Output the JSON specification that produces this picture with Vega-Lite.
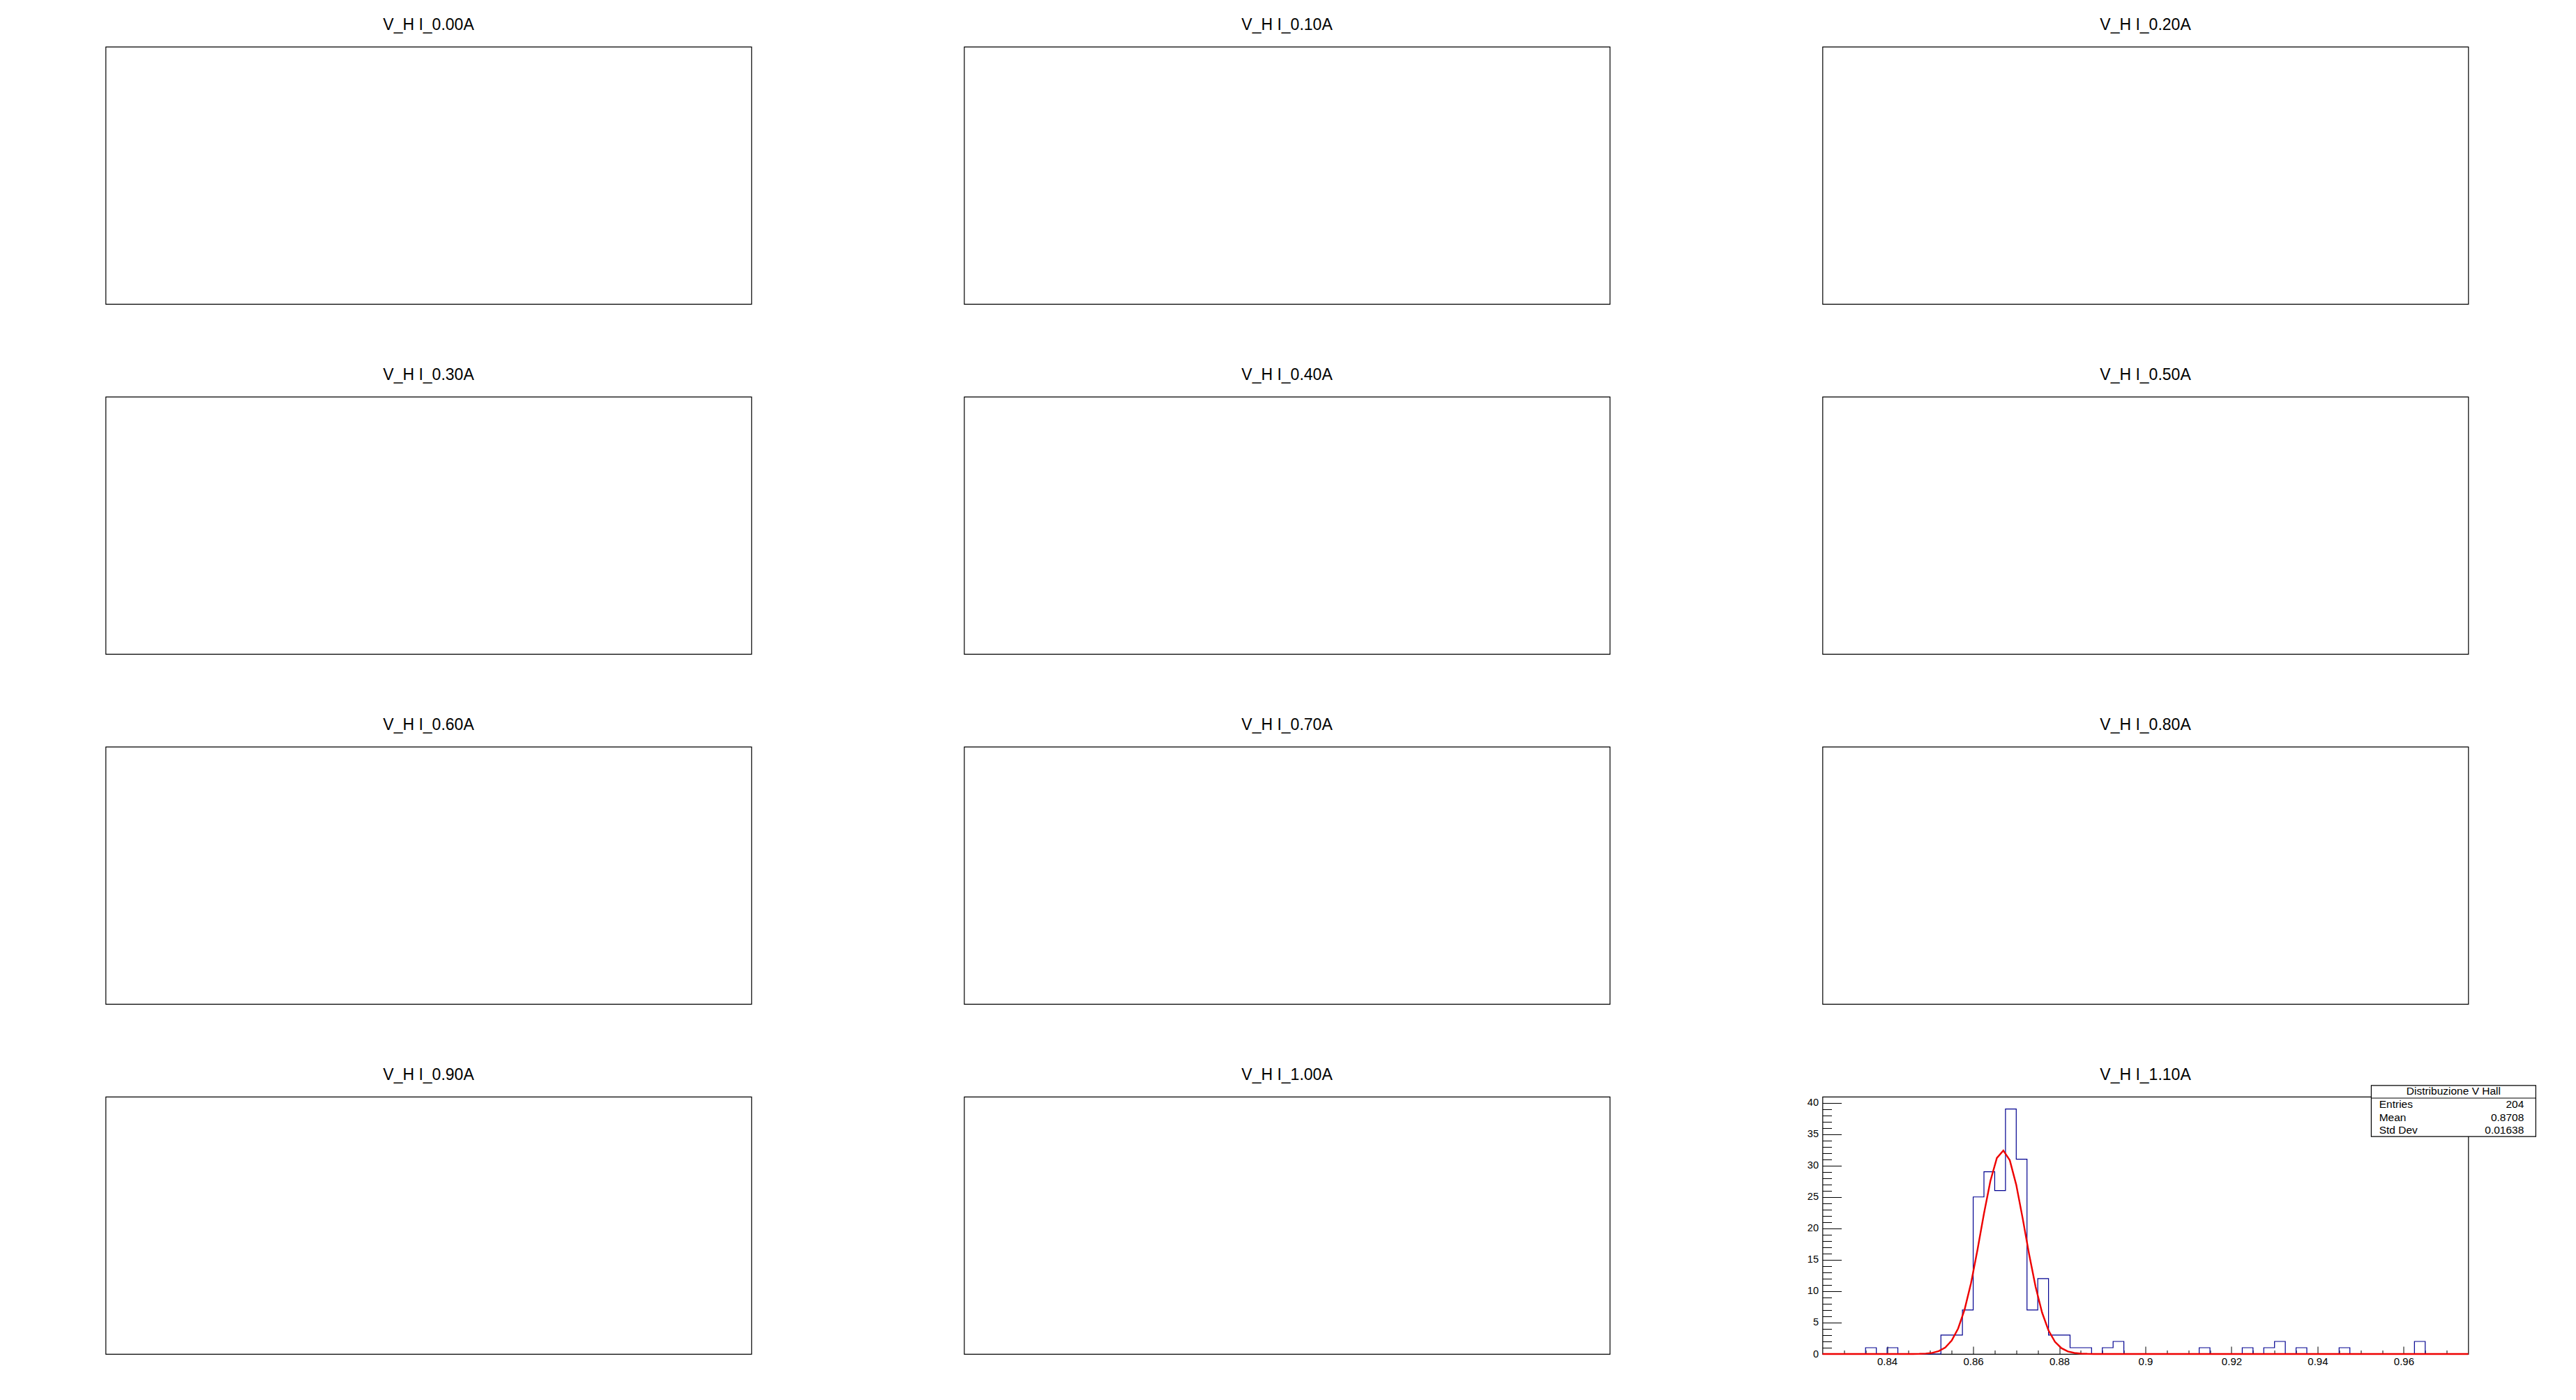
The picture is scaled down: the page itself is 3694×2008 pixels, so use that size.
{
  "$schema": "https://vega.github.io/schema/vega-lite/v6.json",
  "background": "white",
  "padding": {"left": 150.5, "top": 24, "right": 10, "bottom": 10},
  "config": {
    "view": {"stroke": "#000000", "strokeWidth": 1.2},
    "title": {"font": "Liberation Sans", "fontSize": 23, "fontWeight": "normal", "color": "#000000", "anchor": "middle", "frame": "group", "offset": 19, "baseline": "middle"},
    "axis": {"labelFont": "Liberation Sans", "labelColor": "#000000", "tickColor": "#000000", "tickWidth": 1, "grid": false, "domain": false, "title": null, "labelFlush": false, "labelOverlap": false},
    "text": {"font": "Liberation Sans", "color": "#000000"}
  },
  "columns": 3,
  "spacing": {"row": 133, "column": 305},
  "bounds": "flush",
  "concat": [
    {"title": "V_H I_0.00A", "width": 926, "height": 369, "data": {"values": []}, "mark": "point", "encoding": {"x": {"field": "a", "type": "quantitative", "axis": null}, "y": {"field": "b", "type": "quantitative", "axis": null}}},
    {"title": "V_H I_0.10A", "width": 926, "height": 369, "data": {"values": []}, "mark": "point", "encoding": {"x": {"field": "a", "type": "quantitative", "axis": null}, "y": {"field": "b", "type": "quantitative", "axis": null}}},
    {"title": "V_H I_0.20A", "width": 926, "height": 369, "data": {"values": []}, "mark": "point", "encoding": {"x": {"field": "a", "type": "quantitative", "axis": null}, "y": {"field": "b", "type": "quantitative", "axis": null}}},
    {"title": "V_H I_0.30A", "width": 926, "height": 369, "data": {"values": []}, "mark": "point", "encoding": {"x": {"field": "a", "type": "quantitative", "axis": null}, "y": {"field": "b", "type": "quantitative", "axis": null}}},
    {"title": "V_H I_0.40A", "width": 926, "height": 369, "data": {"values": []}, "mark": "point", "encoding": {"x": {"field": "a", "type": "quantitative", "axis": null}, "y": {"field": "b", "type": "quantitative", "axis": null}}},
    {"title": "V_H I_0.50A", "width": 926, "height": 369, "data": {"values": []}, "mark": "point", "encoding": {"x": {"field": "a", "type": "quantitative", "axis": null}, "y": {"field": "b", "type": "quantitative", "axis": null}}},
    {"title": "V_H I_0.60A", "width": 926, "height": 369, "data": {"values": []}, "mark": "point", "encoding": {"x": {"field": "a", "type": "quantitative", "axis": null}, "y": {"field": "b", "type": "quantitative", "axis": null}}},
    {"title": "V_H I_0.70A", "width": 926, "height": 369, "data": {"values": []}, "mark": "point", "encoding": {"x": {"field": "a", "type": "quantitative", "axis": null}, "y": {"field": "b", "type": "quantitative", "axis": null}}},
    {"title": "V_H I_0.80A", "width": 926, "height": 369, "data": {"values": []}, "mark": "point", "encoding": {"x": {"field": "a", "type": "quantitative", "axis": null}, "y": {"field": "b", "type": "quantitative", "axis": null}}},
    {"title": "V_H I_0.90A", "width": 926, "height": 369, "data": {"values": []}, "mark": "point", "encoding": {"x": {"field": "a", "type": "quantitative", "axis": null}, "y": {"field": "b", "type": "quantitative", "axis": null}}},
    {"title": "V_H I_1.00A", "width": 926, "height": 369, "data": {"values": []}, "mark": "point", "encoding": {"x": {"field": "a", "type": "quantitative", "axis": null}, "y": {"field": "b", "type": "quantitative", "axis": null}}},
    {
      "title": {"text": "V_H I_1.10A", "offset": 2.5},
      "width": 926,
      "height": 369,
      "resolve": {"axis": {"x": "independent", "y": "independent"}},
      "layer": [
        {
          "data": {"values": [
            {"v": 0.825, "n": 0}, {"v": 0.8275, "n": 0}, {"v": 0.83, "n": 0}, {"v": 0.8325, "n": 0},
            {"v": 0.835, "n": 1}, {"v": 0.8375, "n": 0}, {"v": 0.84, "n": 1}, {"v": 0.8425, "n": 0},
            {"v": 0.845, "n": 0}, {"v": 0.8475, "n": 0}, {"v": 0.85, "n": 0}, {"v": 0.8525, "n": 3},
            {"v": 0.855, "n": 3}, {"v": 0.8575, "n": 7}, {"v": 0.86, "n": 25}, {"v": 0.8625, "n": 29},
            {"v": 0.865, "n": 26}, {"v": 0.8675, "n": 39}, {"v": 0.87, "n": 31}, {"v": 0.8725, "n": 7},
            {"v": 0.875, "n": 12}, {"v": 0.8775, "n": 3}, {"v": 0.88, "n": 3}, {"v": 0.8825, "n": 1},
            {"v": 0.885, "n": 1}, {"v": 0.8875, "n": 0}, {"v": 0.89, "n": 1}, {"v": 0.8925, "n": 2},
            {"v": 0.895, "n": 0}, {"v": 0.8975, "n": 0}, {"v": 0.9, "n": 0}, {"v": 0.9025, "n": 0},
            {"v": 0.905, "n": 0}, {"v": 0.9075, "n": 0}, {"v": 0.91, "n": 0}, {"v": 0.9125, "n": 1},
            {"v": 0.915, "n": 0}, {"v": 0.9175, "n": 0}, {"v": 0.92, "n": 0}, {"v": 0.9225, "n": 1},
            {"v": 0.925, "n": 0}, {"v": 0.9275, "n": 1}, {"v": 0.93, "n": 2}, {"v": 0.9325, "n": 0},
            {"v": 0.935, "n": 1}, {"v": 0.9375, "n": 0}, {"v": 0.94, "n": 0}, {"v": 0.9425, "n": 0},
            {"v": 0.945, "n": 1}, {"v": 0.9475, "n": 0}, {"v": 0.95, "n": 0}, {"v": 0.9525, "n": 0},
            {"v": 0.955, "n": 0}, {"v": 0.9575, "n": 0}, {"v": 0.96, "n": 0}, {"v": 0.9625, "n": 2},
            {"v": 0.965, "n": 0}, {"v": 0.9675, "n": 0}, {"v": 0.97, "n": 0}, {"v": 0.9725, "n": 0}
          ]},
          "mark": {"type": "line", "interpolate": "step-after", "color": "#000090", "strokeWidth": 1.2},
          "encoding": {
            "x": {"field": "v", "type": "quantitative", "scale": {"domain": [0.825, 0.975], "nice": false, "zero": false},
                  "axis": {"orient": "bottom", "values": [0.84, 0.86, 0.88, 0.9, 0.92, 0.94, 0.96], "format": "~g", "ticks": false, "labelFontSize": 15, "labelPadding": 3}},
            "y": {"field": "n", "type": "quantitative", "scale": {"domain": [0, 40.95], "nice": false, "zero": true},
                  "axis": {"orient": "left", "values": [0, 5, 10, 15, 20, 25, 30, 35, 40], "format": "d", "ticks": false, "labelFontSize": 14.5, "labelPadding": 6}}
          }
        },
        {
          "data": {"values": [
            {"x": 0.825, "fit": 0}, {"x": 0.843, "fit": 0.0006}, {"x": 0.8445, "fit": 0.002}, {"x": 0.846, "fit": 0.007},
            {"x": 0.8475, "fit": 0.023}, {"x": 0.849, "fit": 0.068}, {"x": 0.8505, "fit": 0.184}, {"x": 0.852, "fit": 0.454},
            {"x": 0.8535, "fit": 1.027}, {"x": 0.855, "fit": 2.13}, {"x": 0.8565, "fit": 4.053}, {"x": 0.858, "fit": 7.07},
            {"x": 0.8595, "fit": 11.3}, {"x": 0.861, "fit": 16.6}, {"x": 0.8625, "fit": 22.33}, {"x": 0.864, "fit": 27.56},
            {"x": 0.8655, "fit": 31.2}, {"x": 0.867, "fit": 32.39}, {"x": 0.8685, "fit": 30.84}, {"x": 0.87, "fit": 26.93},
            {"x": 0.8715, "fit": 21.57}, {"x": 0.873, "fit": 15.84}, {"x": 0.8745, "fit": 10.68}, {"x": 0.876, "fit": 6.6},
            {"x": 0.8775, "fit": 3.74}, {"x": 0.879, "fit": 1.941}, {"x": 0.8805, "fit": 0.925}, {"x": 0.882, "fit": 0.405},
            {"x": 0.8835, "fit": 0.162}, {"x": 0.885, "fit": 0.06}, {"x": 0.8865, "fit": 0.02}, {"x": 0.888, "fit": 0.006},
            {"x": 0.8895, "fit": 0.002}, {"x": 0.891, "fit": 0.0005}, {"x": 0.975, "fit": 0}
          ]},
          "mark": {"type": "line", "color": "#ee0000", "strokeWidth": 2.4},
          "encoding": {
            "x": {"field": "x", "type": "quantitative",
                  "axis": {"orient": "bottom", "values": [0.84, 0.86, 0.88, 0.9, 0.92, 0.94, 0.96], "labels": false, "tickSize": -11}},
            "y": {"field": "fit", "type": "quantitative",
                  "axis": {"orient": "left", "values": [0, 5, 10, 15, 20, 25, 30, 35, 40], "labels": false, "tickSize": -27}}
          }
        },
        {
          "data": {"values": [{"box": "Distribuzione V Hall"}]},
          "mark": {"type": "rect", "fill": "#ffffff", "stroke": "#000000", "strokeWidth": 1.2, "clip": false},
          "encoding": {
            "x": {"datum": 0.95247, "type": "quantitative",
                  "axis": {"orient": "bottom", "values": [0.83, 0.835, 0.845, 0.85, 0.855, 0.865, 0.87, 0.875, 0.885, 0.89, 0.895, 0.905, 0.91, 0.915, 0.925, 0.93, 0.935, 0.945, 0.95, 0.955, 0.965, 0.97], "labels": false, "tickSize": -5.5}},
            "x2": {"datum": 0.99069},
            "y": {"datum": 42.73, "type": "quantitative",
                  "axis": {"orient": "left", "values": [1, 2, 3, 4, 6, 7, 8, 9, 11, 12, 13, 14, 16, 17, 18, 19, 21, 22, 23, 24, 26, 27, 28, 29, 31, 32, 33, 34, 36, 37, 38, 39], "labels": false, "tickSize": -13}},
            "y2": {"datum": 34.62}
          }
        },
        {
          "data": {"values": [{"box": "Distribuzione V Hall"}]},
          "mark": {"type": "rule", "color": "#000000", "strokeWidth": 1.2, "clip": false},
          "encoding": {
            "x": {"datum": 0.95247, "type": "quantitative", "axis": null},
            "x2": {"datum": 0.99069},
            "y": {"datum": 40.73, "type": "quantitative", "axis": null}
          }
        },
        {
          "data": {"values": [{"box": "Distribuzione V Hall"}]},
          "mark": {"type": "text", "fontSize": 15.5, "align": "center", "baseline": "middle", "clip": false},
          "encoding": {
            "x": {"datum": 0.97158, "type": "quantitative", "axis": null},
            "y": {"datum": 41.8, "type": "quantitative", "axis": null},
            "text": {"field": "box"}
          }
        },
        {
          "data": {"values": [{"names": "Entries\nMean\nStd Dev"}]},
          "mark": {"type": "text", "fontSize": 15.5, "align": "left", "baseline": "middle", "lineBreak": "\n", "lineHeight": 18.7, "clip": false},
          "encoding": {
            "x": {"datum": 0.9543, "type": "quantitative", "axis": null},
            "y": {"datum": 39.73, "type": "quantitative", "axis": null},
            "text": {"field": "names"}
          }
        },
        {
          "data": {"values": [{"vals": "204\n0.8708\n0.01638"}]},
          "mark": {"type": "text", "fontSize": 15.5, "align": "right", "baseline": "middle", "lineBreak": "\n", "lineHeight": 18.7, "clip": false},
          "encoding": {
            "x": {"datum": 0.98793, "type": "quantitative", "axis": null},
            "y": {"datum": 39.73, "type": "quantitative", "axis": null},
            "text": {"field": "vals"}
          }
        }
      ]
    }
  ]
}
